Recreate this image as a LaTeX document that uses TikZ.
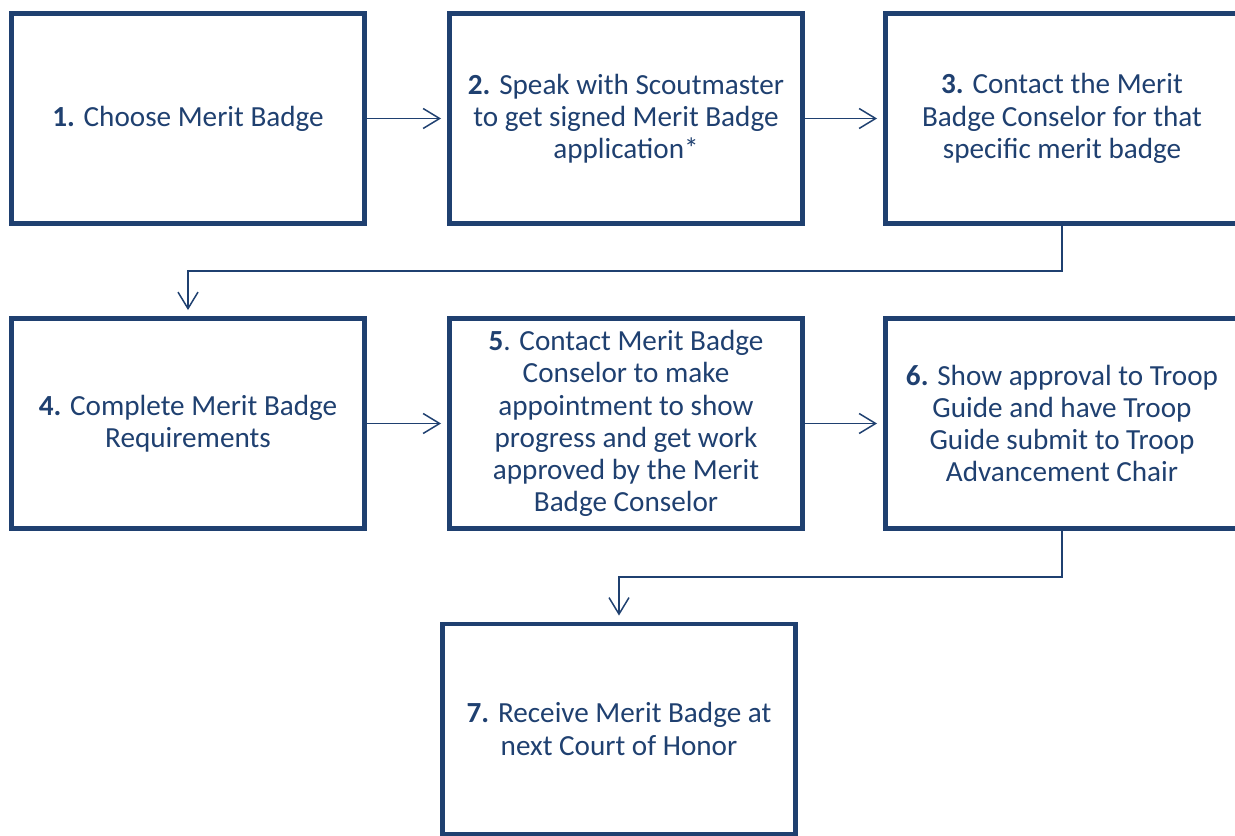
\documentclass[tikz,border=0pt]{standalone}
\usepackage{fontspec}
\setmainfont{Carlito}
\usetikzlibrary{arrows.meta}
\definecolor{scoutblue}{RGB}{31,64,112}
\tikzset{
stepbox/.style={shape=rectangle, draw=scoutblue, line width=2.8pt, minimum width=7.06cm, minimum height=4.2cm, inner sep=0, align=center, text=scoutblue, font=\fontsize{16.6}{18.3}\selectfont}, flow/.style={draw=scoutblue, line width=0.85pt, -{Straight Barb[length=3.3mm, width=4mm]}, shorten >=1.2mm}}

\begin{document}
\begin{tikzpicture}
\clip (0,0) rectangle (24.7,16.7);
\node [stepbox] at (3.76, 14.33) (s-1) {\textbf{1.} Choose Merit Badge};
\node [stepbox] at (12.52, 14.33) (s-2) {\textbf{2.} Speak with Scoutmaster\\to get signed Merit Badge\\application*};
\node [stepbox] at (21.24, 14.33) (s-3) {\textbf{3.} Contact the Merit\\Badge Conselor for that\\specific merit badge};
\node [stepbox] at (3.76, 8.23) (s-4) {\textbf{4.} Complete Merit Badge\\Requirements};
\node [stepbox] at (12.52, 8.23) (s-5) {\textbf{5}. Contact Merit Badge\\Conselor to make\\appointment to show\\progress and get work\\approved by the Merit\\Badge Conselor};
\node [stepbox] at (21.24, 8.23) (s-6) {\textbf{6.} Show approval to Troop\\Guide and have Troop\\Guide submit to Troop\\Advancement Chair};
\node [stepbox] at (12.38, 2.12) (s-7) {\textbf{7.} Receive Merit Badge at\\next Court of Honor};

\draw [flow] (s-1) -- (s-2);
\draw [flow] (s-2) -- (s-3);
\draw [flow] (s-4) -- (s-5);
\draw [flow] (s-5) -- (s-6);
\draw [flow] (s-3.south) -- (21.24, 11.28) -| (s-4.north);
\draw [flow] (s-6.south) -- (21.24, 5.16) -| (s-7.north);
\end{tikzpicture}
\end{document}
